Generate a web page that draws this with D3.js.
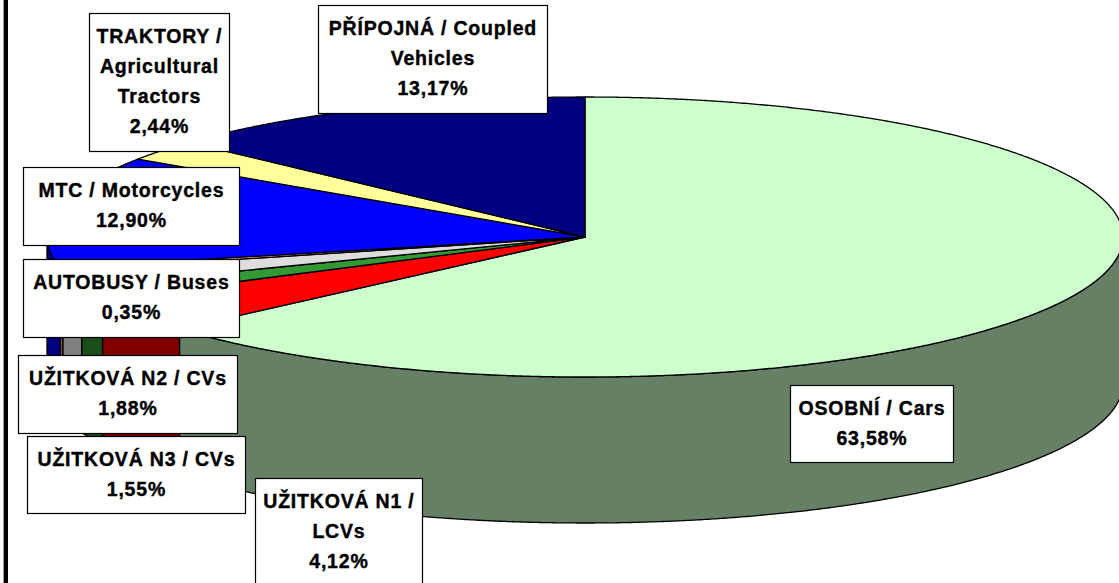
<!DOCTYPE html>
<html>
<head>
<meta charset="utf-8">
<script src="https://cdn.jsdelivr.net/npm/d3@7"></script>
<style>
  html, body { margin: 0; padding: 0; background: #fff; }
  svg { display: block; }
  text { font-family: "Liberation Sans", Arial, sans-serif; font-weight: bold; font-size: 19.5px; fill: #000; stroke: #000; stroke-width: 0.4px; }
</style>
</head>
<body>
<svg id="chart" width="1119" height="583"></svg>
<script>
// Vehicle fleet structure by category (share of total, %)
const categories = [
  "OSOBNÍ / Cars",
  "UŽITKOVÁ N1 / LCVs",
  "UŽITKOVÁ N3 / CVs",
  "UŽITKOVÁ N2 / CVs",
  "AUTOBUSY / Buses",
  "MTC / Motorcycles",
  "TRAKTORY / Agricultural Tractors",
  "PŘÍPOJNÁ / Coupled Vehicles"
];
const shares = [63.58, 4.12, 1.55, 1.88, 0.35, 12.90, 2.44, 13.17];

// Label text split into lines as shown in the callouts
const labelLines = [
  ["OSOBNÍ / Cars"],
  ["UŽITKOVÁ N1 /", "LCVs"],
  ["UŽITKOVÁ N3 / CVs"],
  ["UŽITKOVÁ N2 / CVs"],
  ["AUTOBUSY / Buses"],
  ["MTC / Motorcycles"],
  ["TRAKTORY /", "Agricultural", "Tractors"],
  ["PŘÍPOJNÁ / Coupled", "Vehicles"]
];

// Top-face and side-wall colours per category
const topColors  = ["#CCFFCC", "#FF0000", "#339933", "#DDDDDD", "#FF9999", "#0000FF", "#FFFF99", "#000080"];
const sideColors = ["#668066", "#800000", "#1A4D1A", "#808080", "#804C4C", "#000080", "#80804C", "#000040"];

// Callout box placement [x, y, width, height]
const labelBoxes = [
  [790, 385, 163, 77],
  [255, 478, 167, 108],
  [27, 436, 218, 77],
  [18, 355, 219, 78],
  [23, 259, 216, 78],
  [23, 167, 216, 78],
  [89, 13, 140, 138],
  [318, 5, 229, 108]
];

const svg = d3.select("#chart");

// Pie geometry (tilted disc)
const cx = 585, cy = 237, rx = 538, ry = 140, depth = 146;

const pie = d3.pie().sort(null).value(d => d);
const arcs = pie(shares);

const px = t => cx + rx * Math.sin(t);
const py = t => cy - ry * Math.cos(t);

function arcPoints(t0, t1, dy) {
  const n = Math.max(2, Math.ceil(Math.abs(t1 - t0) / 0.005));
  const pts = [];
  for (let i = 0; i <= n; i++) {
    const t = t0 + (t1 - t0) * i / n;
    pts.push([px(t), py(t) + dy]);
  }
  return pts;
}

const line = d3.line();

// Side walls (only the front half of the disc is visible)
const wallG = svg.append("g");
arcs.forEach((a, i) => {
  const t0 = Math.max(a.startAngle, Math.PI / 2);
  const t1 = Math.min(a.endAngle, 3 * Math.PI / 2);
  if (t1 <= t0) return;
  const topEdge = arcPoints(t0, t1, 0);
  const bottomEdge = arcPoints(t1, t0, depth);
  wallG.append("path")
    .attr("d", line(topEdge.concat(bottomEdge)) + "Z")
    .attr("fill", sideColors[i])
    .attr("stroke", "#000")
    .attr("stroke-width", 1.3)
    .attr("stroke-linejoin", "round");
});

// Top faces
const topG = svg.append("g");
arcs.forEach((a, i) => {
  const pts = [[cx, cy]].concat(arcPoints(a.startAngle, a.endAngle, 0));
  topG.append("path")
    .attr("d", line(pts) + "Z")
    .attr("fill", topColors[i])
    .attr("stroke", "#000")
    .attr("stroke-width", 1.3)
    .attr("stroke-linejoin", "round");
});

// Callouts with category name and share
const fmt = d3.formatLocale({ decimal: ",", thousands: " ", grouping: [3], currency: ["", ""] }).format(".2f");
const labelG = svg.append("g");
categories.forEach((c, i) => {
  const [bx, by, bw, bh] = labelBoxes[i];
  const g = labelG.append("g");
  g.append("rect")
    .attr("x", bx + 0.5).attr("y", by + 0.5)
    .attr("width", bw).attr("height", bh)
    .attr("fill", "#fff").attr("stroke", "#000").attr("stroke-width", 1.2);
  const lines = labelLines[i].concat([fmt(shares[i]) + "%"]);
  lines.forEach((s, k) => {
    g.append("text")
      .attr("x", bx + bw / 2 + 0.4)
      .attr("y", by + 29.5 + k * 30)
      .attr("text-anchor", "middle")
      .attr("letter-spacing", "0.8px")
      .text(s);
  });
});

// Left frame edge
svg.append("rect").attr("x", 3).attr("y", 0).attr("width", 1).attr("height", 583).attr("fill", "#999");
svg.append("rect").attr("x", 4).attr("y", 0).attr("width", 4).attr("height", 583).attr("fill", "#000");
</script>
</body>
</html>
